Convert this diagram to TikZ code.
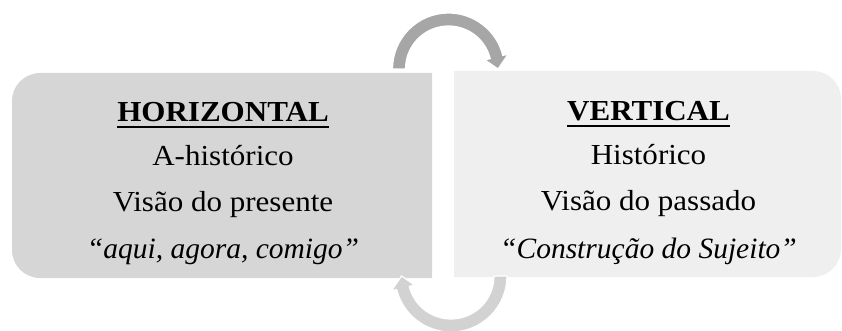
\documentclass[tikz,border=0pt]{standalone}
\usepackage{fontspec}
\setmainfont{Liberation Serif}[FakeStretch=1.07]
\newfontfamily\plainserif{Liberation Serif}
\usetikzlibrary{calc}
\definecolor{boxL}{RGB}{214,214,214}
\definecolor{boxR}{RGB}{239,239,239}
\definecolor{arrTop}{RGB}{166,166,166}
\definecolor{arrBot}{RGB}{210,210,210}
\tikzset{
  panel/.style={rectangle, inner sep=0pt, outer sep=0pt},
  txt/.style={inner sep=0pt, outer sep=0pt, anchor=base, font=\fontsize{29}{34}\selectfont},
  head/.style={txt, font=\fontsize{29}{34}\selectfont\bfseries},
  itxt/.style={txt, font=\plainserif\fontsize{29.5}{34}\selectfont\itshape},
  uline/.style={line width=2pt},
  cyc/.style={draw=white, line width=1.2pt},
}
\begin{document}
\begin{tikzpicture}[x=1pt,y=1pt]
\useasboundingbox (0,0) rectangle (842,330);
% panels
\node[panel, minimum width=420pt, minimum height=205pt, anchor=south west] (L) at (12,52) {};
\node[panel, minimum width=387pt, minimum height=206pt, anchor=south west] (R) at (454,53) {};
\fill[boxL] (L.north east) -- ([xshift=28pt]L.north west) arc[start angle=90,end angle=180,radius=28pt]
  -- ([yshift=28pt]L.south west) arc[start angle=180,end angle=270,radius=28pt] -- (L.south east) -- cycle;
\fill[boxR] (R.north west) -- ([xshift=-28pt]R.north east) arc[start angle=90,end angle=0,radius=28pt]
  -- ([yshift=28pt]R.south east) arc[start angle=0,end angle=-90,radius=28pt] -- (R.south west) -- cycle;
% texts left
\node[head] (L1) at ($(L.south)+(1,157)$) {HORIZONTAL};
\draw[uline] ([yshift=-6pt]L1.base west) -- ([yshift=-6pt]L1.base east);
\node[txt] (L2) at ($(L.south)+(1,113)$) {A-histórico};
\node[txt] (L3) at ($(L.south)+(1,66.5)$) {Visão do presente};
\node[itxt] (L4) at ($(L.south)+(1,20)$) {“aqui, agora, comigo”};
% texts right
\node[head] (R1) at ($(R.south)+(1,157)$) {VERTICAL};
\draw[uline] ([yshift=-6pt]R1.base west) -- ([yshift=-6pt]R1.base east);
\node[txt] (R2) at ($(R.south)+(1,113)$) {Histórico};
\node[txt] (R3) at ($(R.south)+(1,67)$) {Visão do passado};
\node[itxt] (R4) at ($(R.south)+(1,19)$) {“Construção do Sujeito”};
% cycle arrows
\coordinate (ct) at ($(L.north east)!0.5!(R.north west)+(5.5,3)$);
\coordinate (cb) at ($(L.south east)!0.5!(R.south west)+(8,1.5)$);
\fill[arrTop, cyc, shift={(ct)}] (180:43) -- (180:56) arc[start angle=180,end angle=14,radius=56]
  -- (14:61.5) -- (0:49.5) -- (14:37.5) -- (14:43) arc[start angle=14,end angle=180,radius=43] -- cycle;
\fill[arrBot, cyc, shift={(cb)}] (0:43) -- (0:56) arc[start angle=0,end angle=-166,radius=56]
  -- (-166:61.5) -- (-180:49.5) -- (-166:37.5) -- (-166:43) arc[start angle=-166,end angle=0,radius=43] -- cycle;
\end{tikzpicture}
\end{document}
